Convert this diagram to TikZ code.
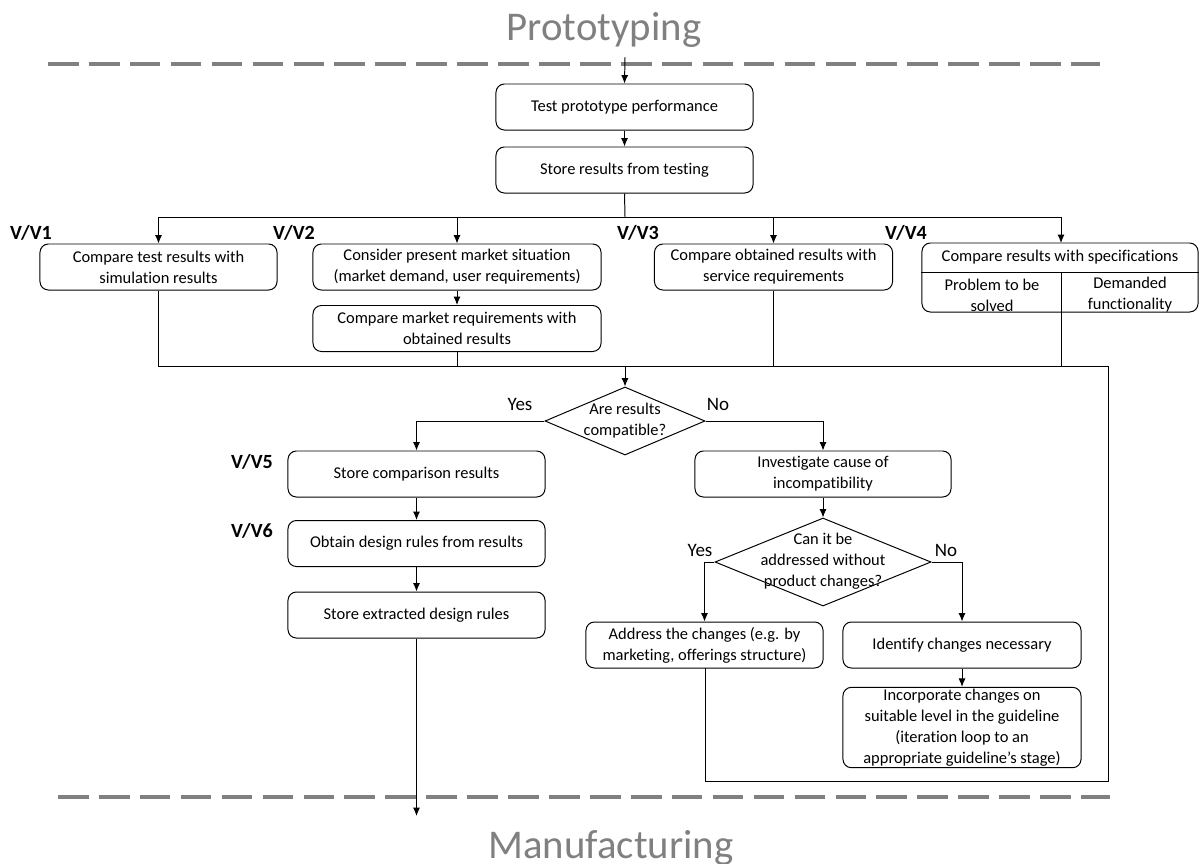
\documentclass[tikz,border=0pt]{standalone}
\usepackage{fontspec}
\setmainfont{Carlito}[Ligatures=NoCommon]
\usetikzlibrary{arrows.meta,shapes.geometric}

\begin{document}
\begin{tikzpicture}[>={Latex[length=6pt,width=5pt]},x=0.025cm,y=-0.025cm]

% ----------------------------
% Styles
% ----------------------------
\tikzset{
	box/.style={draw,rounded corners=6pt,line width=0.7pt,align=center,inner sep=1pt,
		minimum height=1.15cm,font=\fontsize{11.7}{15}\selectfont},
	decision/.style={draw,diamond,line width=0.7pt,inner sep=0pt},
	qtext/.style={align=center,inner sep=0pt,font=\fontsize{11.7}{15}\selectfont},
	vvlabel/.style={font=\fontsize{14.3}{16}\selectfont\bfseries},
	answer/.style={font=\fontsize{13.5}{15}\selectfont},
	phase/.style={font=\fontsize{29}{33}\selectfont,text=black!50},
	stageline/.style={draw=black!50,line width=2.8pt,dash pattern=on 21.8pt off 7.3pt},
	flow/.style={->,line width=0.7pt},
	link/.style={line width=0.7pt}
}

\useasboundingbox (0,0) rectangle (1200,863);

% ============================================================
% Phase borders
% ============================================================
\node[phase] (proto) at (604,30) {Prototyping};
\draw[stageline] (48,64) -- (1100,64);
\draw[stageline] (58,797) -- (1110,797);
\node[phase] (manuf) at (611,848) {Manufacturing};

% ============================================================
% Testing
% ============================================================
\coordinate (entry) at (625,57);
\node[box,minimum width=6.425cm] (test) at (624.5,107) {Test prototype performance};
\node[box,minimum width=6.425cm] (store) at (624.5,170) {Store results from testing};
\draw[flow] (entry) -- (test.north);
\draw[flow] (test) -- (store);

% ============================================================
% V/V1 -- V/V4 comparisons
% ============================================================
\node[box,minimum width=5.925cm] (sim) at (158.5,267) {Compare test results with\\simulation results};
\node[box,minimum width=7.2cm] (market) at (457,267) {Consider present market situation\\(market demand, user requirements)};
\node[box,minimum width=7.2cm] (mktcmp) at (457,328.5) {Compare market requirements with\\obtained results};
\node[box,minimum width=5.95cm] (service) at (773.5,267) {Compare obtained results with\\service requirements};
\node[draw,rounded corners=6pt,line width=0.7pt,minimum width=6.9cm,minimum height=1.725cm] (spec) at (1060,277.5) {};
\node[qtext] (specT) at (1060,257) {Compare results with specifications};
\node[qtext] (specA) at (992,295) {Problem to be\\solved};
\node[qtext] (specB) at (1130,295) {Demanded\\functionality};
\draw[link] (spec.west |- 0,272) -- (spec.east |- 0,272);
\draw[link] (1061,272) -- (1061,312);

\node[vvlabel] (vv1) at (31,233) {V/V1};
\node[vvlabel] (vv2) at (294,233) {V/V2};
\node[vvlabel] (vv3) at (638,233) {V/V3};
\node[vvlabel] (vv4) at (906,233) {V/V4};

% fan out from the stored results
\coordinate (fan) at (625,217);
\draw[link] (store.south) -- (fan);
\draw[flow] (fan) -| (sim.north);
\draw[flow] (fan) -| (market.north);
\draw[flow] (fan) -| (service.north);
\draw[flow] (fan) -| (1061,243);
\draw[flow] (market) -- (mktcmp);

% ============================================================
% Decision on compatibility
% ============================================================
\node[decision,minimum width=4cm,minimum height=1.7cm] (compat) at (625,421) {};
\node[qtext] (compatT) at (625,421) {Are results\\compatible?};
\node[answer] (yes1) at (520,404) {Yes};
\node[answer] (no1) at (718,404) {No};

% collector line, also closing the loop from the right branch
\coordinate (loopNE) at (1108,366);
\coordinate (loopSE) at (1108,781);
\draw[link] (sim.south) |- (loopNE) -- (loopSE) -| (705,668);
\draw[link] (mktcmp.south) -- (mktcmp.south |- loopNE);
\draw[link] (service.south) -- (service.south |- loopNE);
\draw[link] (1061,312) -- (1061,366);
\draw[flow] (compat.north |- loopNE) -- (compat.north);

% ----------------------------
% Yes: store and extract rules
% ----------------------------
\node[box,minimum width=6.425cm] (cmpres) at (416.5,474) {Store comparison results};
\node[box,minimum width=6.425cm] (rules) at (416.5,543.5) {Obtain design rules from results};
\node[box,minimum width=6.425cm] (extract) at (416.5,615) {Store extracted design rules};
\node[vvlabel] (vv5) at (252,462) {V/V5};
\node[vvlabel] (vv6) at (252,531) {V/V6};
\coordinate (exit) at (416.5,816);
\draw[flow] (compat.west) -| (cmpres.north);
\draw[flow] (cmpres) -- (rules);
\draw[flow] (rules) -- (extract);
\draw[flow] (extract.south) -- (exit);

% ----------------------------
% No: find the cause
% ----------------------------
\node[box,minimum width=6.4cm] (cause) at (823,474) {Investigate cause of\\incompatibility};
\node[decision,minimum width=5.4cm,minimum height=2.2cm] (addr) at (823,562) {};
\node[qtext] (addrT) at (823,561) {Can it be\\addressed without\\product changes?};
\node[answer] (yes2) at (700,550) {Yes};
\node[answer] (no2) at (946,550) {No};
\draw[flow] (compat.east) -| (cause.north);
\draw[flow] (cause) -- (addr);

\node[box,minimum width=5.925cm] (market2) at (704.5,645) {Address the changes (e.g. by\\marketing, offerings structure)};
\node[box,minimum width=5.95cm] (ident) at (962,645) {Identify changes necessary};
\node[box,minimum width=5.95cm,minimum height=1.975cm] (incorp) at (962,727.5)
	{Incorporate changes on\\suitable level in the guideline\\(iteration loop to an\\appropriate guideline's stage)};
\draw[flow] (addr.west) -| (market2.north);
\draw[flow] (addr.east) -| (ident.north);
\draw[flow] (ident) -- (incorp);

\end{tikzpicture}
\end{document}
